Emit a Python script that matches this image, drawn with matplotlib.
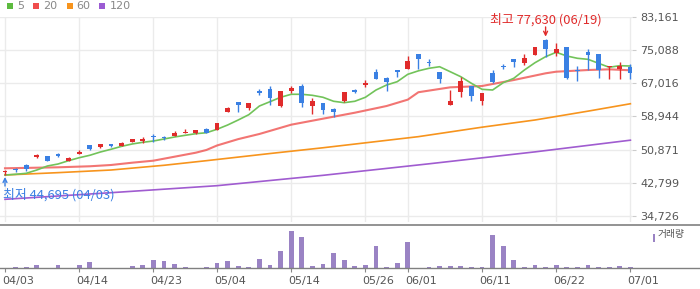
import matplotlib
matplotlib.use("Agg")
import matplotlib.pyplot as plt
import matplotlib.transforms as mtransforms
from matplotlib.patches import Rectangle

# daily candles, 04/03 .. 07/01
opens = [45400, 45950, 47100, 49250, 49300, 49710, 48160, 49710, 51900, 51560,
         52220, 51800, 52770, 52850, 54050, 53800, 54230, 54810, 54960, 55940,
         55620, 60070, 62420, 60970, 65170, 65580, 61450, 65100, 66310, 61530,
         62180, 60720, 62670, 65150, 66750, 69720, 68260, 70200, 70450, 74090,
         72120, 69720, 61620, 64780, 66310, 62740, 69480, 71050, 72800, 71980,
         73920, 77500, 74260, 75870, 70080, 74650, 74170, 70950, 70370, 71000]
highs = [45890, 46450, 47400, 49780, 49300, 49950, 49130, 50680, 51900, 52220,
         52220, 52770, 53430, 54000, 54610, 54230, 55450, 55790, 55620, 56100,
         57400, 61210, 62420, 62300, 65510, 66310, 65100, 66310, 66800, 63470,
         62180, 61040, 64860, 65660, 67770, 70450, 68570, 70200, 73680, 74090,
         72800, 69720, 65340, 68570, 66310, 64540, 70200, 71660, 72800, 74020,
         75800, 77630, 76700, 75870, 71170, 75240, 74170, 71170, 72220, 71660]
lows = [44695, 45330, 45700, 48740, 48160, 48980, 48160, 49710, 50760, 51320,
        51560, 51800, 52770, 52500, 52630, 53260, 54230, 54810, 54720, 54810,
        55620, 60070, 60070, 60500, 64050, 61700, 61210, 64540, 61280, 59580,
        59580, 58850, 62420, 64540, 66070, 68090, 65100, 68570, 70450, 70520,
        71170, 66970, 61620, 63710, 62740, 61770, 67000, 70370, 71000, 71420,
        73920, 73440, 73680, 68000, 67600, 70200, 68190, 68020, 68020, 67940]
closes = [45480, 45900, 46100, 49300, 48160, 49220, 48740, 50270, 51000, 52220,
          51800, 52380, 53430, 53500, 54000, 53750, 54890, 55060, 55620, 54810,
          57250, 60970, 61700, 62180, 64690, 63470, 65100, 65830, 62260, 62670,
          60550, 59990, 64860, 65100, 66800, 68090, 67290, 69790, 72390, 72800,
          72070, 67940, 62740, 67530, 63880, 64540, 67370, 71000, 72220, 73050,
          75800, 75380, 75310, 68190, 70030, 73920, 70200, 71000, 71170, 69400]
volumes = [0, 400, 400, 1000, 0, 1000, 0, 1000, 1900, 0,
           0, 0, 700, 1000, 2500, 2200, 1300, 400, 0, 400,
           1600, 2200, 700, 400, 2800, 1000, 5200, 11000, 9400, 700,
           1300, 4600, 2500, 700, 1000, 6700, 400, 1600, 7900, 0,
           400, 700, 700, 700, 400, 400, 10000, 6700, 2500, 400,
           1000, 400, 1000, 400, 400, 1000, 400, 400, 700, 400]

ma5 = [44680, 44850, 45090, 45890, 46870, 47350, 48160, 48880, 49470, 50270,
       50930, 51650, 52220, 52630, 52940, 53430, 53920, 54330, 54720, 54950,
       55790, 56830, 58050, 59340, 61450, 62500, 63570, 64300, 64300, 64050,
       63570, 62600, 62260, 62600, 63570, 65340, 66560, 67360, 69160, 70000,
       70620, 71000, 69790, 68570, 66970, 65510, 65340, 67120, 68190, 70200,
       71980, 73440, 74510, 73610, 73050, 72800, 71830, 70860, 71250, 71170]
ma20_idx = [0, 5, 8, 10, 12, 14, 16, 18, 19, 20, 22, 24, 27, 30, 33, 36, 38, 39,
            42, 45, 48, 51, 52, 55, 57, 59]
ma20 = [46310, 46550, 46800, 47110, 47670, 48160, 49130, 50100, 50760, 51850,
        53400, 54650, 56910, 58370, 59820, 61450, 63000, 64800,
        65990, 66310, 67770, 69400, 69790, 70200, 70370, 70130]
ma60_idx = [0, 5, 10, 15, 19, 25, 30, 35, 39, 45, 50, 55, 59]
ma60 = [44680, 45250, 45890, 47040, 48160, 49900, 51300, 52800, 54000, 56300,
        58050, 60200, 62000]
ma120_idx = [0, 10, 20, 30, 40, 50, 59]
ma120 = [38770, 40380, 42080, 44600, 47400, 50300, 53140]

tick_idx = [0, 7, 14, 20, 27, 34, 38, 45, 52, 59]
tick_lbl = ['04/03', '04/14', '04/23', '05/04', '05/14', '05/26', '06/01',
            '06/11', '06/22', '07/01']
price_ticks = [34726, 42799, 50871, 58944, 67016, 75088, 83161]

UP = '#e02b2b'
DOWN = '#3a80e3'
W, H = 700, 289
KR = ['Noto Sans CJK KR', 'DejaVu Sans']

fig = plt.figure(figsize=(7, 2.89), dpi=100)


def fx(px):
    return px / W


def fy(py):
    return 1 - py / H


# main price axes
ax = fig.add_axes([0, fy(222), fx(632), fy(16.7) - fy(222)])
ax.set_xlim(-5 / 10.6, 59 + 1.6 / 10.6)
ax.set_ylim(33253, 83161)
for s in ax.spines.values():
    s.set_visible(False)
ax.set_yticks(price_ticks)
ax.set_yticklabels(['{:,}'.format(v) for v in price_ticks])
ax.yaxis.tick_right()
ax.tick_params(axis='y', length=3, width=0.8, color='#cccccc', pad=3,
               labelsize=8, labelcolor='#555555')
ax.set_xticks(tick_idx)
ax.tick_params(axis='x', length=0, labelbottom=False)
ax.grid(True, color='#ebebeb', lw=1.0)
ax.set_axisbelow(True)

ax.plot(ma120_idx, ma120, color='#a05cd0', lw=1.2)
ax.plot(ma60_idx, ma60, color='#f7941d', lw=1.2)
ax.plot(ma20_idx, ma20, color='#ef5350', lw=1.5, alpha=0.8)
ax.plot(range(len(ma5)), ma5, color='#72c35a', lw=1.2)

for i in range(len(opens)):
    o, h, l, c = opens[i], highs[i], lows[i], closes[i]
    col = UP if c >= o else DOWN
    ax.vlines(i, l, h, color=col, lw=1.0, zorder=3)
    body = max(abs(c - o), 300)
    ax.bar(i, body, bottom=min(o, c) - (body - abs(c - o)) / 2, width=0.47,
           color=col, zorder=4, linewidth=0)

# max / min markers
hi = highs.index(max(highs))
lo = lows.index(min(lows))
ax.annotate('', xy=(hi, highs[hi]), xytext=(0, 9), textcoords='offset points',
            arrowprops=dict(arrowstyle='->', color=UP, lw=1.0, shrinkA=0, shrinkB=2,
                            mutation_scale=7))
ax.annotate('최고 {:,} ({})'.format(highs[hi], '06/19'), xy=(hi, highs[hi]),
            xytext=(0, 9.5), textcoords='offset points', ha='center', va='bottom',
            color=UP, fontsize=9.3, family=KR, annotation_clip=False)
ax.annotate('', xy=(lo, lows[lo]), xytext=(0, -8), textcoords='offset points',
            arrowprops=dict(arrowstyle='->', color=DOWN, lw=1.0, shrinkA=0, shrinkB=1.5,
                            mutation_scale=7))
ax.annotate('최저 {:,} ({})'.format(lows[lo], '04/03'), xy=(lo, lows[lo]),
            xytext=(-1.5, -9.5), textcoords='offset points', ha='left', va='top',
            color=DOWN, fontsize=9.3, family=KR, annotation_clip=False)

# volume axes
vx = fig.add_axes([0, fy(268), 1, fy(225) - fy(268)])
vx.set_xlim(-5 / 10.6, 695 / 10.6)
vx.set_ylim(0, 12900)
vx.bar(range(len(volumes)), volumes, width=0.47, color='#9a83c4', linewidth=0)
for k in ['left', 'right']:
    vx.spines[k].set_visible(False)
vx.spines['top'].set_color('#808080')
vx.spines['top'].set_linewidth(1.2)
vx.spines['bottom'].set_color('#808080')
vx.spines['bottom'].set_linewidth(1.0)
vx.set_yticks([])
vx.set_xticks(tick_idx)
vx.set_xticklabels(tick_lbl, ha='left')
vx.tick_params(axis='x', length=3, width=0.8, color='#888888', pad=3,
               labelsize=8, labelcolor='#555555')
shift = mtransforms.ScaledTranslation(-3 / 100, 0, fig.dpi_scale_trans)
for lab in vx.get_xticklabels():
    lab.set_transform(lab.get_transform() + shift)
vx.text(fx(658), 0.79, '거래량', transform=vx.transAxes, fontsize=7, family=KR,
        color='#555555', va='center', ha='left')
vx.add_patch(Rectangle((fx(652.7), 0.61), fx(2.7), 0.17, transform=vx.transAxes,
                       color='#9a83c4', lw=0))

# top legend
leg_names = ['5', '20', '60', '120']
leg_cols = ['#5dbb3f', '#f04d4d', '#f7941d', '#9b5bd3']
leg_sq = [7.3, 33.3, 66.7, 99.3]
leg_tx = [17.3, 43.3, 76.7, 110]
for name, col, sx, tx in zip(leg_names, leg_cols, leg_sq, leg_tx):
    fig.patches.append(Rectangle((fx(sx), fy(9)), fx(6), fy(3) - fy(9),
                                 transform=fig.transFigure, color=col, lw=0))
    fig.text(fx(tx), fy(6), name, fontsize=8, color='#888888', va='center', ha='left')

fig.savefig('out.png', dpi=100)
